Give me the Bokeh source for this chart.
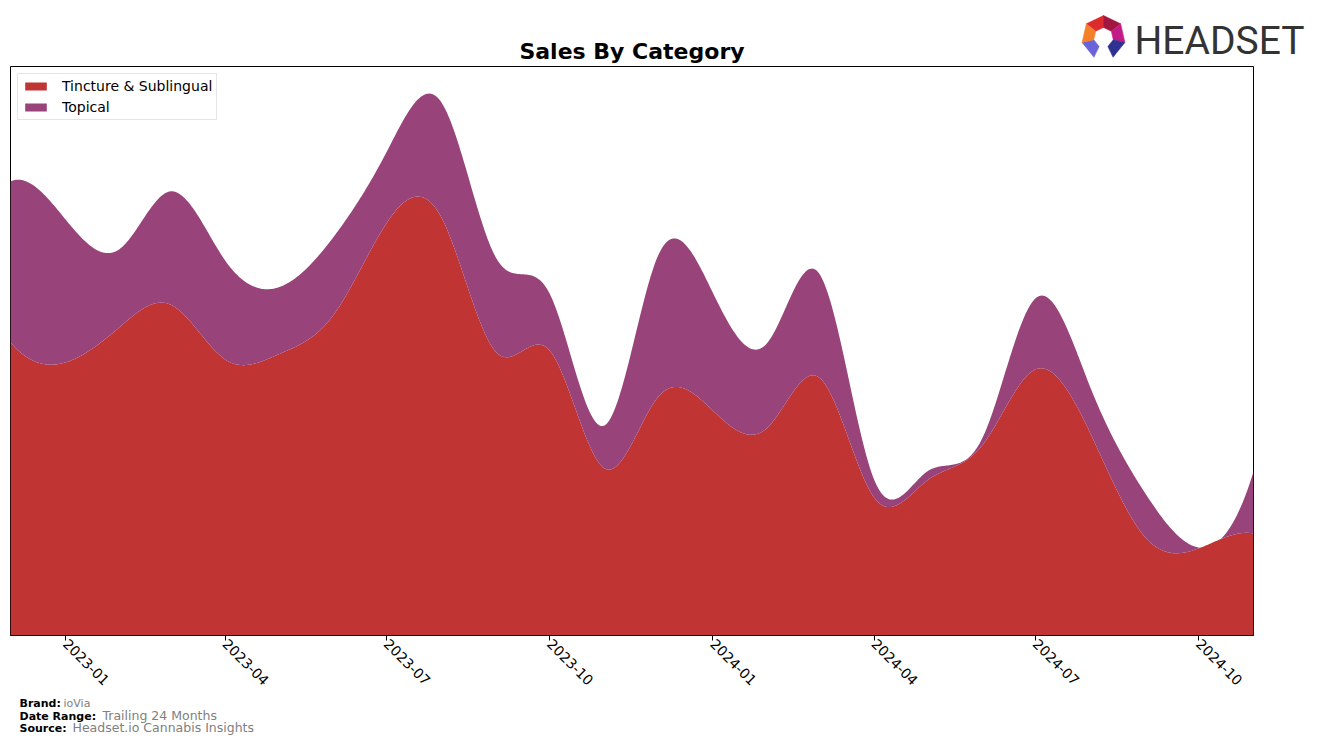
import math
import numpy as np
import pandas as pd
from bokeh.plotting import figure
from bokeh.layouts import column
from bokeh.models import (ColumnDataSource, Range1d, FixedTicker, DatetimeTickFormatter, Label)
from bokeh.embed import file_html
from bokeh.resources import INLINE

# ---------------- data (y axis is unlabeled) ----------------
MONTHS = ["2022-12", "2023-01", "2023-02", "2023-03", "2023-04", "2023-05", "2023-06",
          "2023-07", "2023-08", "2023-09", "2023-10", "2023-11", "2023-12", "2024-01",
          "2024-02", "2024-03", "2024-04", "2024-05", "2024-06", "2024-07", "2024-08",
          "2024-09", "2024-10", "2024-11"]
TINCTURE = [293, 273, 309, 331, 276, 281, 320, 412, 418, 283, 285, 167,
            238, 225, 208, 258, 138, 155, 190, 266, 202, 98, 87, 102]
TOPICAL = [161, 143, 78, 113, 99, 67, 78, 71, 115, 94, 57, 43,
           141, 118, 85, 104, 18, 9, 7, 71, 46, 44, 1, 62]
CATEGORIES = ["Tincture & Sublingual", "Topical"]
TICK_LABELS = ["2023-01", "2023-04", "2023-07", "2023-10",
               "2024-01", "2024-04", "2024-07", "2024-10"]

COLORS = ["#C13434", "#984379"]
FONT = "DejaVu Sans"
PAGE_W = 1317
FRAME_L, FRAME_R, FRAME_T, FRAME_B = 10, 1253, 66, 635
BASE_SHIFT = 0.31   # measured offset of Label's alphabetic baseline (fraction of font size)


def to_ms(labels):
    d = pd.to_datetime(labels)
    return np.asarray((d - pd.Timestamp("1970-01-01")) // pd.Timedelta("1ms"), dtype=float)


def smooth(x, y, xs):
    """not-a-knot cubic spline through the monthly points (for drawing only)"""
    x = np.asarray(x, float)
    y = np.asarray(y, float)
    n = len(x)
    h = np.diff(x)
    A = np.zeros((n, n))
    b = np.zeros(n)
    A[0, 0], A[0, 1], A[0, 2] = h[1], -(h[0] + h[1]), h[0]
    A[-1, -3], A[-1, -2], A[-1, -1] = h[-1], -(h[-2] + h[-1]), h[-2]
    for i in range(1, n - 1):
        A[i, i - 1] = h[i - 1]
        A[i, i] = 2 * (h[i - 1] + h[i])
        A[i, i + 1] = h[i]
        b[i] = 6 * ((y[i + 1] - y[i]) / h[i] - (y[i] - y[i - 1]) / h[i - 1])
    M = np.linalg.solve(A, b)
    idx = np.clip(np.searchsorted(x, xs, side="right") - 1, 0, n - 2)
    x0, x1 = x[idx], x[idx + 1]
    hh = x1 - x0
    return (M[idx] * (x1 - xs) ** 3 / (6 * hh) + M[idx + 1] * (xs - x0) ** 3 / (6 * hh)
            + (y[idx] / hh - M[idx] * hh / 6) * (x1 - xs)
            + (y[idx + 1] / hh - M[idx + 1] * hh / 6) * (xs - x0))


month_ms = to_ms(MONTHS)
days = month_ms / 86400000.0
dense_ms = np.linspace(month_ms[0], month_ms[-1], 900)
dense_days = dense_ms / 86400000.0
tin_s = np.maximum(smooth(days, TINCTURE, dense_days), 0)
top_s = np.maximum(smooth(days, TOPICAL, dense_days), 0)
src = ColumnDataSource(dict(x=dense_ms, tincture=tin_s, topical=top_s))
y_end = 1.05 * float(np.max(tin_s + top_s))


def blank_fig(h, y_top):
    """helper canvas whose data coordinates equal page pixels (y downwards)"""
    f = figure(width=PAGE_W, height=h, output_backend="svg", toolbar_location=None,
               x_axis_location=None, y_axis_location=None, title=None,
               min_border=0, outline_line_color=None)
    try:
        f.frame_align = False
        f.x_range = Range1d(0, PAGE_W)
    except Exception:
        # frames get aligned with the main chart: map the aligned frame 1:1 to page pixels
        f.x_range = Range1d(FRAME_L, FRAME_R)
    f.y_range = Range1d(y_top + h, y_top)
    f.grid.visible = False
    return f


def add_text(fig, text, px, py, size_px, color="black", bold=False, font=FONT, align="left"):
    fig.add_layout(Label(x=px, y=py - BASE_SHIFT * size_px, text=text, text_font=font,
                         text_font_size=f"{size_px}px", text_color=color,
                         text_font_style="bold" if bold else "normal",
                         text_baseline="alphabetic", text_align=align))


# ---------------- header: title + logo ----------------
HEAD_H = 65
header = blank_fig(HEAD_H, 0)
add_text(header, "Sales By Category", 631.5, 58, 22, bold=True, align="center")
cx, cy, R, r = 1103, 37, 22, 10
segs = [((141.4, 90), "#DC2A2E"), ((90, 38.6), "#A3163F"), ((38.6, -12.9), "#C41C86"),
        ((-12.9, -64.3), "#2F3192"), ((-115.7, -167.1), "#6B63DA"), ((-167.1, -218.6), "#F4812A")]
lxs, lys, lcs = [], [], []
for (a0, a1), col in segs:
    xs_, ys_ = [], []
    for a, rad in ((a0, R), (a1, R), (a1, r), (a0, r)):
        t = math.radians(a)
        xs_.append(cx + rad * math.cos(t))
        ys_.append(cy - rad * math.sin(t))
    lxs.append(xs_)
    lys.append(ys_)
    lcs.append(col)
header.patches(lxs, lys, fill_color=lcs, line_color=lcs, line_width=0.5)
add_text(header, "HEADSET", 1134, 53, 39, color="#333333", font="Roboto")

# ---------------- main chart ----------------
MAIN_BOTTOM = 694
p = figure(width=PAGE_W, height=MAIN_BOTTOM - HEAD_H, x_axis_type="datetime",
           output_backend="svg", toolbar_location=None, y_axis_location=None, title=None,
           x_range=Range1d(month_ms[0], month_ms[-1]), y_range=Range1d(0, y_end),
           min_border_left=FRAME_L, min_border_right=PAGE_W - FRAME_R,
           min_border_top=FRAME_T - HEAD_H, min_border_bottom=MAIN_BOTTOM - FRAME_B)
p.grid.visible = False
p.outline_line_color = "black"
p.outline_line_width = 1

p.varea_stack(["tincture", "topical"], x="x", color=COLORS,
              legend_label=CATEGORIES, source=src)

ax = p.xaxis[0]
ax.ticker = FixedTicker(ticks=list(to_ms(TICK_LABELS)))
ax.formatter = DatetimeTickFormatter(days="%Y-%m", months="%Y-%m", years="%Y-%m")
ax.major_label_orientation = -math.pi / 4
ax.major_label_text_font = FONT
ax.major_label_text_font_size = "14px"
ax.major_label_text_color = "black"
ax.major_tick_in = 0
ax.major_tick_out = 5
ax.minor_tick_out = 0
ax.minor_tick_in = 0
ax.axis_line_color = "black"
ax.major_tick_line_color = "black"
ax.major_label_standoff = 1

lg = p.legend[0]
lg.location = "top_left"
lg.margin = 7
lg.padding = 4
lg.spacing = 5
lg.label_height = 16
lg.glyph_height = 10
lg.glyph_width = 27
lg.label_standoff = 13
lg.label_text_font = FONT
lg.label_text_font_size = "14px"
lg.label_text_color = "black"
lg.border_line_color = "#cccccc"
lg.border_line_width = 1
lg.background_fill_alpha = 0.8

# ---------------- footer ----------------
footer = blank_fig(744 - MAIN_BOTTOM, MAIN_BOTTOM)
add_text(footer, "Brand:", 19, 706, 11, bold=True)
add_text(footer, "ioVia", 63, 706, 11, color="#808080")
add_text(footer, "Date Range:", 19, 719, 11, bold=True)
add_text(footer, "Trailing 24 Months", 102, 719, 12.5, color="#808080")
add_text(footer, "Source:", 19, 731, 11, bold=True)
add_text(footer, "Headset.io Cannabis Insights", 72, 731, 12.5, color="#808080")

layout = column(header, p, footer, spacing=0)
open("out.html", "w").write(file_html(layout, INLINE))
